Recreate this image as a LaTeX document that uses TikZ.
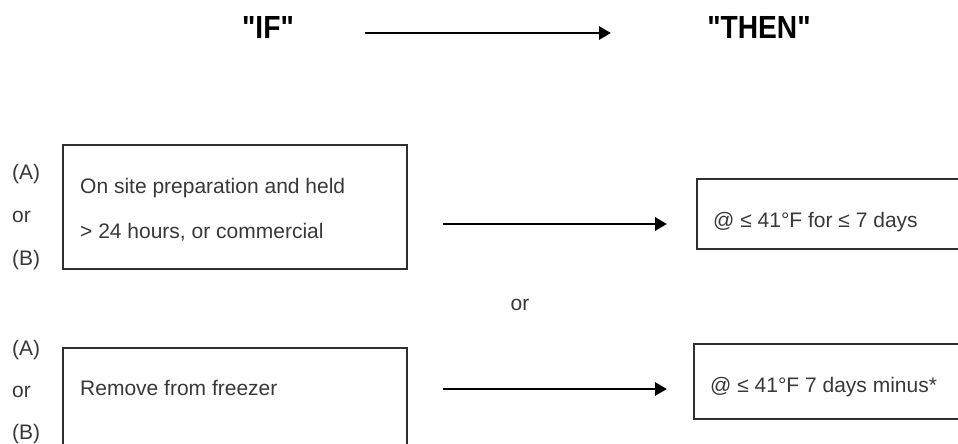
\documentclass[tikz,border=0pt]{standalone}
\usepackage{fontspec}
\setmainfont{Liberation Sans}
\usetikzlibrary{arrows.meta}

\definecolor{boxline}{HTML}{303030}
\definecolor{bodytext}{HTML}{383838}

\newcommand*{\boxw}{344pt}
\newcommand*{\arrx}{443}
\newcommand*{\arrxe}{667}

\tikzset{
	ifbox/.style={draw=boxline, line width=1.6pt, anchor=north west, inner sep=0pt, minimum width=\boxw},
	thenbox/.style={draw=boxline, line width=1.6pt, anchor=north west, inner sep=0pt, minimum width=320pt},
	hdr/.style={font=\fontsize{32}{32}\selectfont\bfseries, anchor=base, inner sep=0pt, xscale=0.88},
	txt/.style={font=\fontsize{21}{21}\selectfont, text=bodytext, anchor=base west, inner sep=0pt},
	arr/.style={-{Triangle[length=12pt,width=13pt]}, line width=2.9pt}
}

\begin{document}
\begin{tikzpicture}[x=1pt,y=-1pt]

	\clip (0,0) rectangle (958,444);

	% header
	\node[hdr] (if) at (268,39) {\textquotedbl IF\textquotedbl};
	\node[hdr] (then) at (759,39) {\textquotedbl THEN\textquotedbl};
	\coordinate (hs) at (365,33);
	\coordinate (he) at (611,33);
	\draw[arr] (hs) -- (he);

	% first case
	\node[ifbox, minimum height=124pt] (cond1) at (62,144) {};
	\node[txt] (c1a) at (80,193) {On site preparation and held};
	\node[txt] (c1b) at (80,238) {> 24 hours, or commercial};
	\node[txt] (a1) at (12,179) {(A)};
	\node[txt] (or1) at (12,222) {or};
	\node[txt] (b1) at (12,265) {(B)};
	\node[thenbox, minimum height=70pt] (res1) at (696,178) {};
	\node[txt] (r1) at (713,227) {@ ≤ 41°F for ≤ 7 days};
	\coordinate (s1) at (\arrx,224);
	\coordinate (e1) at (\arrxe,224);
	\draw[arr] (s1) -- (e1);

	\node[txt, anchor=base] (ormid) at (520,310) {or};

	% second case
	\node[ifbox, minimum height=124pt] (cond2) at (62,347) {};
	\node[txt] (c2) at (80,395) {Remove from freezer};
	\node[txt] (a2) at (12,355) {(A)};
	\node[txt] (or2) at (12,397) {or};
	\node[txt] (b2) at (12,439) {(B)};
	\node[thenbox, minimum height=75pt] (res2) at (693,343) {};
	\node[txt] (r2) at (710,392) {@ ≤ 41°F 7 days minus*};
	\coordinate (s2) at (\arrx,389);
	\coordinate (e2) at (\arrxe,389);
	\draw[arr] (s2) -- (e2);

\end{tikzpicture}
\end{document}
